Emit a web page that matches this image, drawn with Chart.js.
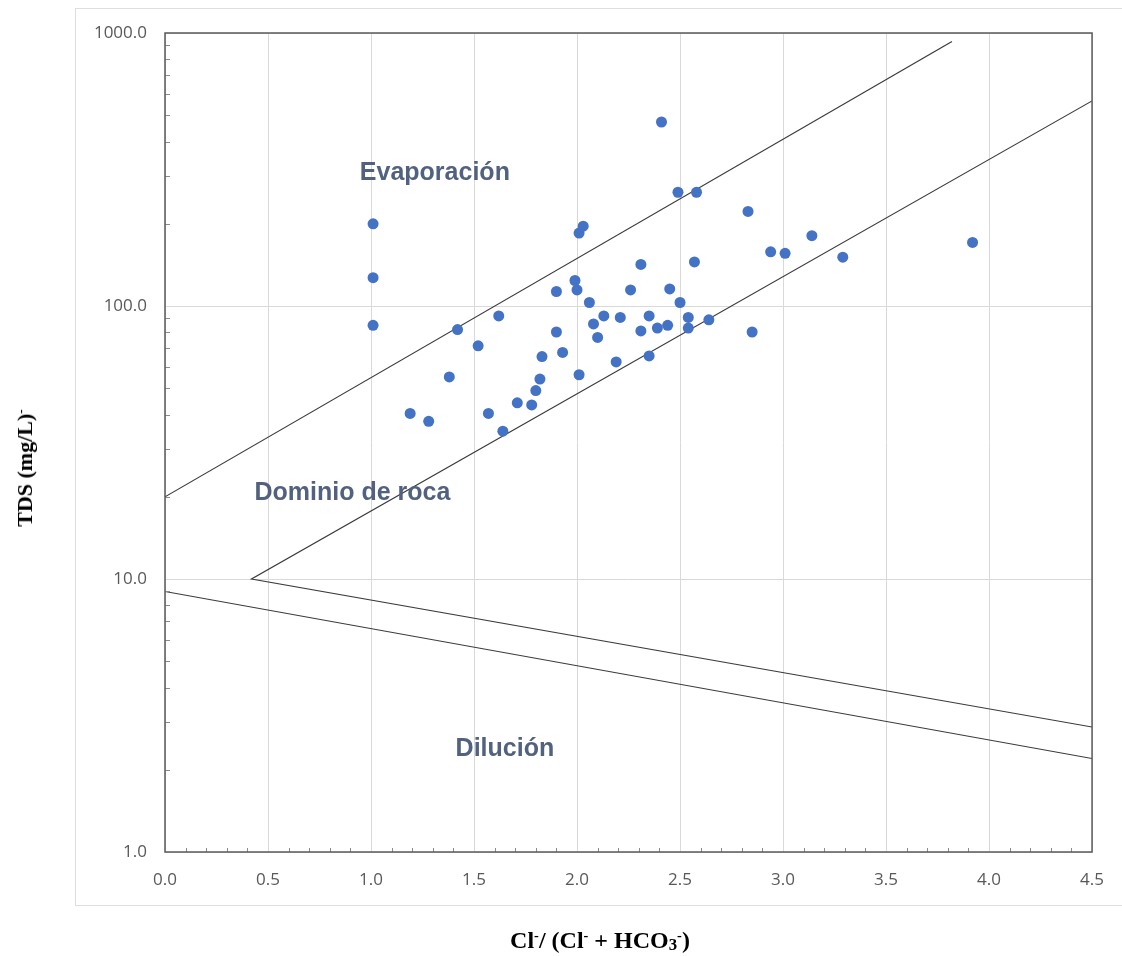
<!DOCTYPE html>
<html>
<head>
<meta charset="utf-8">
<script src="https://cdn.jsdelivr.net/npm/chart.js@4.4.1/dist/chart.umd.min.js"></script>
<style>
    html, body { margin:0; padding:0; background:#fff; overflow:hidden; }
    #wrap { position:relative; width:1122px; height:956px; }
    #frame { position:absolute; left:75px; top:8px; width:1080px; height:896px; border:1px solid #dedede; }
    #chart { position:absolute; left:0; top:0; }
    .title { position:absolute; font-family:"Liberation Serif", "Times New Roman", serif; font-weight:bold; color:#000; white-space:nowrap; }
    .title sup { font-size:0.6em; vertical-align:0.55em; }
    .title sub { font-size:0.7em; vertical-align:-0.15em; }
    #ytitle { font-size:22px; left:25px; top:468px; transform:translate(-50%, -50%) rotate(-90deg); }
    #xtitle { font-size:24px; left:600px; top:941px; transform:translate(-50%, -50%); }
</style>
</head>
<body>
<div id="wrap">
    <div id="frame"></div>
    <canvas id="chart" width="1122" height="956"></canvas>
    <div class="title" id="ytitle">TDS (mg/L)<sup>-</sup></div>
    <div class="title" id="xtitle">Cl<sup>-</sup>/ (Cl<sup>-</sup> + HCO<sub>3</sub><sup>-</sup>)</div>
</div>
<script>
// ======================================================
// Data
// ======================================================

const yTicks = [1, 10, 100, 1000];

const ratio = [
    1.01, 1.01, 1.01, 1.19, 1.28, 1.38, 1.42, 1.52, 1.57, 1.62,
    1.64, 1.71, 1.78, 1.80, 1.82, 1.83, 1.90, 1.90, 1.93, 1.99,
    2.00, 2.01, 2.01, 2.03, 2.06, 2.08, 2.10, 2.13, 2.19, 2.21,
    2.26, 2.31, 2.31, 2.35, 2.35, 2.39, 2.41, 2.44, 2.45, 2.49,
    2.50, 2.54, 2.54, 2.57, 2.58, 2.64, 2.83, 2.85, 2.94, 3.01,
    3.14, 3.29, 3.92
];

const tds = [
    200, 127, 85, 40.4, 37.8, 55, 82, 71.5, 40.4, 92,
    34.8, 44.2, 43.4, 49, 54, 65.3, 113, 80.3, 67.6, 124,
    114.5, 56, 185, 196, 103, 86, 76.7, 92, 62.4, 90.8,
    114.5, 81, 142, 92, 65.6, 83, 472, 85, 115.5, 261,
    103, 83, 90.8, 145, 261, 89, 222, 80.3, 158, 156,
    181, 151, 171
];

// evaporation boundary
const evapX = [0, 3.82];
const evapY = [20, 930];

// rock dominance wedge
const rockX = [4.5, 0.42, 4.5];
const rockY = [2.87, 10, 564];

// dilution boundary
const dilX = [0, 4.5];
const dilY = [9, 2.2];

const regionNames = ["Evaporación", "Dominio de roca", "Dilución"];
const regionX = [1.31, 0.91, 1.65];
const regionY = [308, 20.6, 2.38];

// ======================================================
// Helpers
// ======================================================

const toPoints = (xs, ys) => xs.map((x, i) => ({ x: x, y: ys[i] }));

const lineSet = (xs, ys) => ({
    data: toPoints(xs, ys),
    showLine: true,
    borderColor: "#3a3a3a",
    borderWidth: 1.2,
    pointRadius: 0,
    fill: false
});

const tickFont = { family: "'Open Sans', sans-serif", size: 17 };

// ======================================================
// Plot frame, minor ticks, region labels
// ======================================================

const decorPlugin = {
    id: "decor",
    afterDatasetsDraw(chart) {
        const ctx = chart.ctx;
        const a = chart.chartArea;
        const xs = chart.scales.x;
        const ys = chart.scales.y;
        ctx.save();

        // minor ticks
        ctx.strokeStyle = "#8c8c8c";
        ctx.lineWidth = 1;
        ctx.beginPath();
        for (let i = 1; i < 45; i++) {
            if (i % 5 === 0) continue;
            const px = Math.round(xs.getPixelForValue(i / 10)) + 0.5;
            ctx.moveTo(px, a.bottom);
            ctx.lineTo(px, a.bottom - 4);
        }
        for (let d = 1; d <= 100; d *= 10) {
            for (let m = 2; m <= 9; m++) {
                const py = Math.round(ys.getPixelForValue(d * m)) + 0.5;
                ctx.moveTo(a.left, py);
                ctx.lineTo(a.left + 5, py);
            }
        }
        ctx.stroke();

        // plot border
        ctx.strokeStyle = "#5a5a5a";
        ctx.lineWidth = 1.5;
        ctx.strokeRect(a.left, a.top, a.right - a.left, a.bottom - a.top);

        // region labels
        ctx.fillStyle = "#51617f";
        ctx.font = "bold 25px 'Liberation Sans', Arial, sans-serif";
        ctx.textAlign = "center";
        ctx.textBaseline = "middle";
        regionNames.forEach((name, i) => {
            ctx.fillText(
                name,
                xs.getPixelForValue(regionX[i]),
                ys.getPixelForValue(regionY[i])
            );
        });

        ctx.restore();
    }
};

// ======================================================
// Chart
// ======================================================

new Chart(

    document.getElementById("chart"),

    {
        type: "scatter",

        data: {
            datasets: [
                {
                    data: toPoints(ratio, tds),
                    backgroundColor: "#4472c4",
                    borderColor: "#4472c4",
                    borderWidth: 0,
                    pointRadius: 5.5,
                    pointHoverRadius: 5.5
                },
                lineSet(evapX, evapY),
                lineSet(rockX, rockY),
                lineSet(dilX, dilY)
            ]
        },

        options: {
            responsive: false,
            animation: false,
            events: [],
            layout: {
                padding: { left: 75, top: 33, right: 29, bottom: 0 }
            },
            plugins: {
                legend: { display: false },
                tooltip: { enabled: false }
            },
            scales: {
                x: {
                    type: "linear",
                    min: 0,
                    max: 4.5,
                    afterFit: (s) => { s.height = 104; },
                    grid: { color: "#d9d9d9", drawTicks: false },
                    border: { display: false },
                    ticks: {
                        stepSize: 0.5,
                        padding: 18,
                        color: "#595959",
                        font: tickFont,
                        callback: (v) => Number(v).toFixed(1)
                    }
                },
                y: {
                    type: "logarithmic",
                    min: 1,
                    max: 1000,
                    afterFit: (s) => { s.width = 90; },
                    afterBuildTicks: (s) => {
                        s.ticks = yTicks.map((v) => ({ value: v }));
                    },
                    grid: { color: "#d9d9d9", drawTicks: false },
                    border: { display: false },
                    ticks: {
                        padding: 18,
                        color: "#595959",
                        font: tickFont,
                        callback: (v) => Number(v).toFixed(1)
                    }
                }
            }
        },

        plugins: [decorPlugin]
    }

);
</script>
</body>
</html>
